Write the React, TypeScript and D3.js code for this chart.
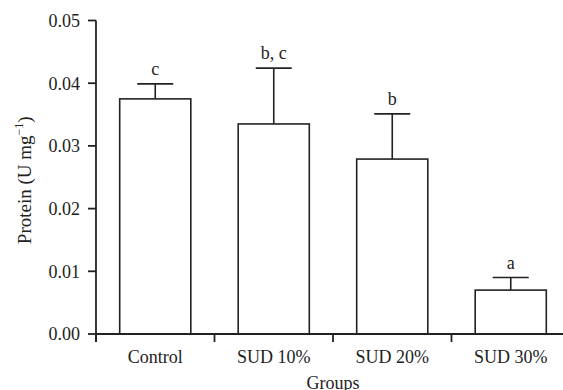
import React from "react";
import * as d3 from "d3";

// values
const groups = ["Control", "SUD 10%", "SUD 20%", "SUD 30%"];
const means = [0.0375, 0.0335, 0.0279, 0.0070];
const errors = [0.0024, 0.0089, 0.0072, 0.0020];
const letters = ["c", "b, c", "b", "a"];
const yTicks = [0.0, 0.01, 0.02, 0.03, 0.04, 0.05];

const W = 563;
const H = 390;
const margin = { left: 96, right: -7, top: 20.5, bottom: 56 };
const ink = "#222";
const font = "'Liberation Serif', 'Times New Roman', serif";
const fs = 18;

export default function App() {
  const x = d3
    .scaleBand<string>()
    .domain(groups)
    .range([margin.left, W - margin.right])
    .paddingInner(0)
    .paddingOuter(0);

  const y = d3
    .scaleLinear()
    .domain([0, 0.05])
    .range([H - margin.bottom, margin.top]);

  const barW = x.bandwidth() * 0.6;
  const capW = 36;
  const y0 = y(0);
  const boundaries = groups.map((g) => x(g) as number).concat([W - margin.right]);

  return (
    <svg
      width={W}
      height={H}
      style={{ position: "absolute", left: 0, top: 0, background: "#fff" }}
      fontFamily={font}
    >
      {/* bars */}
      {groups.map((g, i) => {
        const cx = (x(g) as number) + x.bandwidth() / 2;
        const top = y(means[i]);
        const errTop = y(means[i] + errors[i]);
        return (
          <g key={g}>
            <line x1={cx} x2={cx} y1={top} y2={errTop} stroke={ink} strokeWidth={1.6} />
            <line x1={cx - capW / 2} x2={cx + capW / 2} y1={errTop} y2={errTop} stroke={ink} strokeWidth={1.6} />
            <rect
              x={cx - barW / 2}
              y={top}
              width={barW}
              height={y0 - top}
              fill="#fff"
              stroke={ink}
              strokeWidth={1.6}
            />
            <text x={cx} y={errTop - 9} textAnchor="middle" fontSize={fs} fill={ink}>
              {letters[i]}
            </text>
            <text x={cx} y={363} textAnchor="middle" fontSize={fs} fill={ink}>
              {g}
            </text>
          </g>
        );
      })}

      {/* y axis */}
      <line x1={margin.left} x2={margin.left} y1={y(0.05)} y2={y0 + 8} stroke={ink} strokeWidth={1.8} />
      {yTicks.map((t) => (
        <g key={t}>
          <line x1={margin.left - 8} x2={margin.left} y1={y(t)} y2={y(t)} stroke={ink} strokeWidth={1.8} />
          <text x={80} y={y(t)} dy="0.35em" textAnchor="end" fontSize={fs} fill={ink}>
            {d3.format(".2f")(t)}
          </text>
        </g>
      ))}

      {/* x axis */}
      <line x1={margin.left} x2={W - margin.right} y1={y0} y2={y0} stroke={ink} strokeWidth={1.8} />
      {boundaries.map((b, i) => (
        <line key={i} x1={b} x2={b} y1={y0} y2={y0 + 8} stroke={ink} strokeWidth={1.8} />
      ))}

      <text x={(margin.left + W - margin.right) / 2} y={389} textAnchor="middle" fontSize={fs} fill={ink}>
        Groups
      </text>
      <text
        transform={`translate(31, ${(y(0) + y(0.05)) / 2 + 3}) rotate(-90)`}
        textAnchor="middle"
        fontSize={19}
        fill={ink}
      >
        Protein (U mg
        <tspan fontSize={12} dy={-8}>
          −1
        </tspan>
        <tspan dy={8}>)</tspan>
      </text>
    </svg>
  );
}
